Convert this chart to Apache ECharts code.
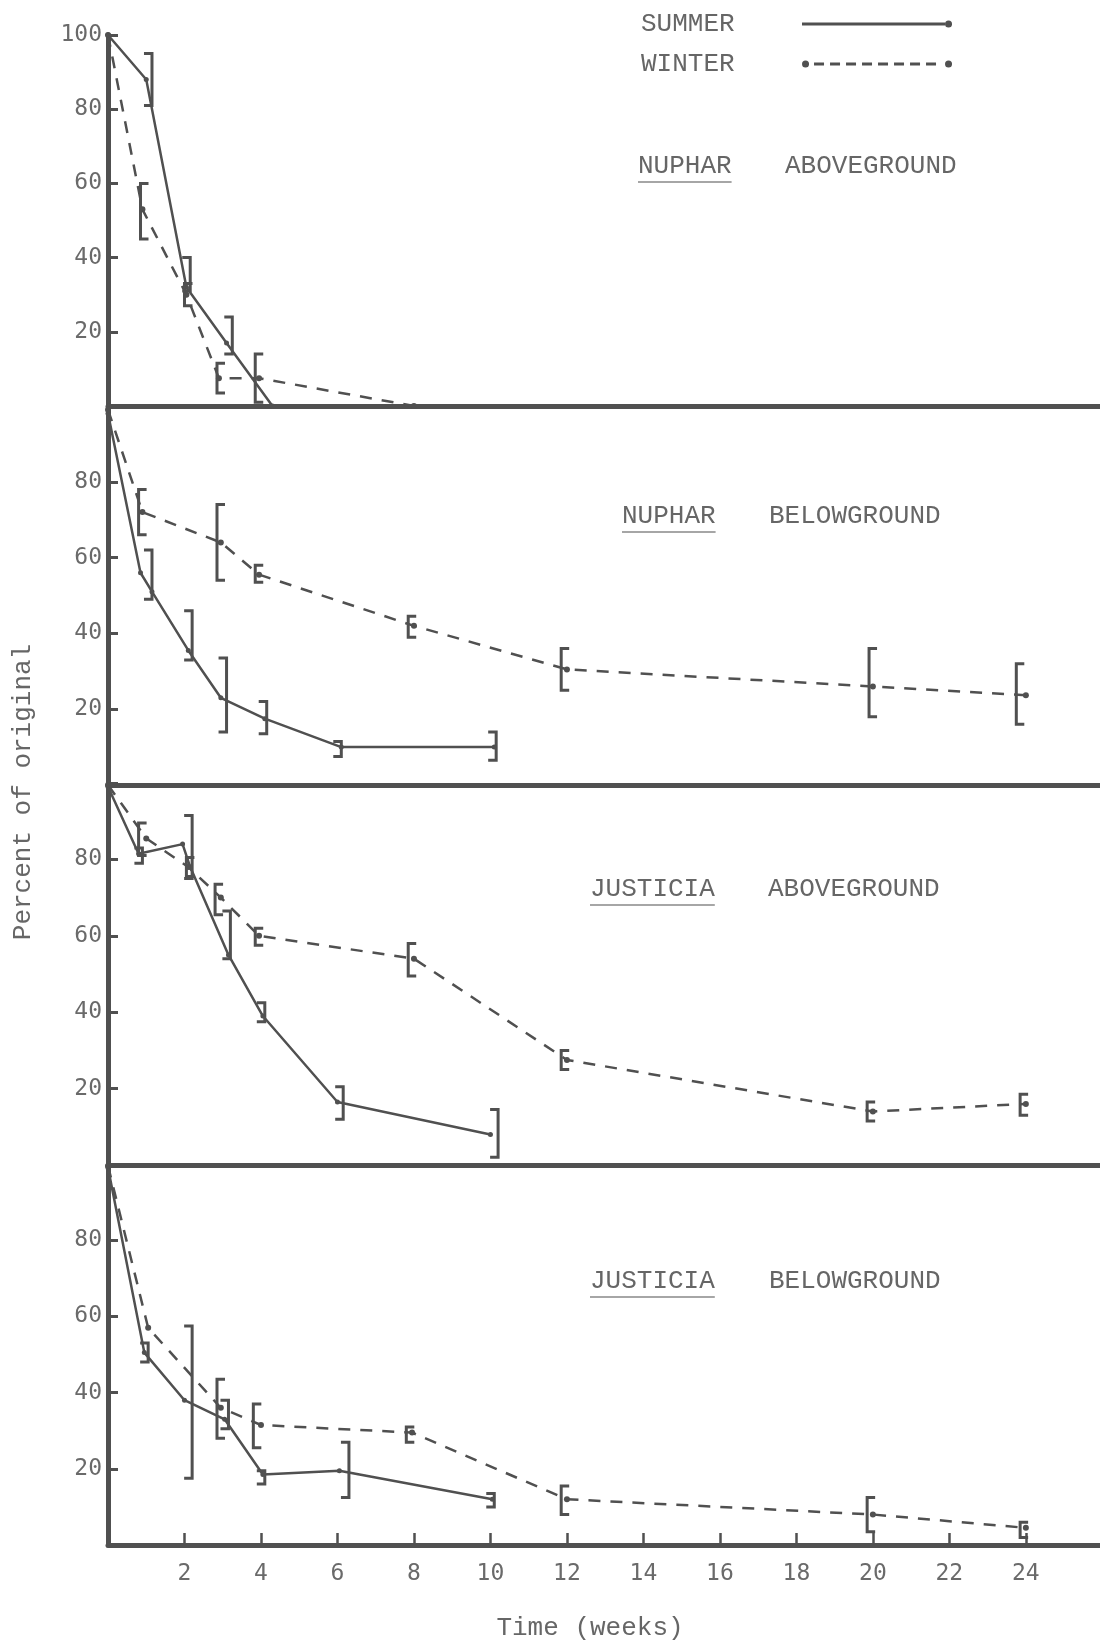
<!DOCTYPE html>
<html>
<head>
<meta charset="utf-8">
<script src="https://cdn.jsdelivr.net/npm/echarts@6/dist/echarts.min.js"></script>
<style>
  html, body { margin: 0; padding: 0; background: #fff; }
  #chart { width: 1100px; height: 1646px; }
</style>
</head>
<body>
<div id="chart"></div>
<script>
// weeks on x, percent of original on y
var xTicks = [2, 4, 6, 8, 10, 12, 14, 16, 18, 20, 22, 24];
var yTicks = [20, 40, 60, 80, 100];

// NUPHAR aboveground
var nupAbvSummer = [[0, 100], [1, 88], [2.05, 32], [3.1, 17], [4.3, 0]];
var nupAbvSummerErr = [[1.15, 81, 95], [2.15, 31, 40], [3.25, 14, 24]];
var nupAbvWinter = [[0, 100], [0.9, 53], [2.05, 30], [2.9, 7.5], [3.95, 7.5], [8, 0]];
var nupAbvWinterErr = [[0.85, 45, 60], [2.0, 27, 33], [2.85, 3.5, 11.5], [3.85, 1, 14]];

// NUPHAR belowground
var nupBelSummer = [[0, 98], [0.85, 56], [1.15, 51], [2.1, 35.5], [2.95, 23], [4.1, 17.5], [6.1, 10], [10.1, 10]];
var nupBelSummerErr = [[1.15, 49, 62], [2.2, 33, 46], [3.1, 14, 33.5], [4.15, 13.5, 22], [6.1, 7.5, 11.5], [10.15, 6.5, 14]];
var nupBelWinter = [[0, 99], [0.9, 72], [2.95, 64], [3.95, 55.5], [8, 42], [12, 30.5], [20, 26], [24, 23.7]];
var nupBelWinterErr = [[0.8, 66, 78], [2.85, 54, 74], [3.85, 53.5, 58], [7.85, 39, 44.5], [11.85, 25, 36], [19.9, 18, 36], [23.75, 16, 32]];

// JUSTICIA aboveground
var jusAbvSummer = [[0, 99], [0.8, 81.5], [1.95, 84], [2.15, 78], [3.15, 55], [4.05, 39], [6, 16.5], [10, 8]];
var jusAbvSummerErr = [[0.9, 79, 83], [2.2, 75, 91.5], [3.2, 54, 66.5], [4.1, 37.5, 42.5], [6.15, 12, 20.5], [10.2, 2, 14.5]];
var jusAbvWinter = [[0, 99.5], [1, 85.5], [2.1, 78], [2.95, 70], [3.95, 60], [8, 54], [12, 27.5], [20, 14], [24, 16]];
var jusAbvWinterErr = [[0.8, 81, 89.5], [2.05, 75.5, 80.5], [2.8, 65.5, 73.5], [3.85, 57.5, 62], [7.85, 49.5, 58], [11.85, 25, 30], [19.85, 11.5, 16.5], [23.85, 13, 18.5]];

// JUSTICIA belowground
var jusBelSummer = [[0, 99], [0.95, 50.5], [2, 38], [3.05, 33], [4.05, 18.5], [6.05, 19.5], [10.05, 12]];
var jusBelSummerErr = [[1.05, 48, 53], [2.2, 17.5, 57.5], [3.15, 30.5, 38], [4.1, 16, 19.5], [6.3, 12.5, 27], [10.1, 10, 13.5]];
var jusBelWinter = [[0, 99.5], [1.05, 57], [2.95, 36], [4.0, 31.5], [7.95, 29.5], [12, 12], [20, 8], [24, 4.5]];
var jusBelWinterErr = [[2.85, 28, 43.5], [3.8, 25.5, 37], [7.8, 27, 31], [11.85, 8, 15.5], [19.85, 3.5, 12.5], [23.85, 2, 6]];

var panels = [
  { genus: 'NUPHAR', part: 'ABOVEGROUND', summer: nupAbvSummer, summerErr: nupAbvSummerErr, winter: nupAbvWinter, winterErr: nupAbvWinterErr },
  { genus: 'NUPHAR', part: 'BELOWGROUND', summer: nupBelSummer, summerErr: nupBelSummerErr, winter: nupBelWinter, winterErr: nupBelWinterErr },
  { genus: 'JUSTICIA', part: 'ABOVEGROUND', summer: jusAbvSummer, summerErr: jusAbvSummerErr, winter: jusAbvWinter, winterErr: jusAbvWinterErr },
  { genus: 'JUSTICIA', part: 'BELOWGROUND', summer: jusBelSummer, summerErr: jusBelSummerErr, winter: jusBelWinter, winterErr: jusBelWinterErr }
];

var ink = '#505050';
var textInk = '#666';
var font = '"Liberation Mono", "DejaVu Sans Mono", monospace';
var numFont = '"DejaVu Sans Mono", monospace';

// grid layout (pixels); axes run a bit past the right edge so the end tick is off-page
var grids = [
  { left: 108, right: -10, top: 35, height: 371, outerBoundsMode: 'none' },
  { left: 108, right: -10, top: 406, height: 379, outerBoundsMode: 'none' },
  { left: 108, right: -10, top: 783, height: 382, outerBoundsMode: 'none' },
  { left: 108, right: -10, top: 1164, height: 381, outerBoundsMode: 'none' }
];
// title positions: [genus x, part x, y]
var titlePos = [[638, 785, 166], [622, 769, 516], [590, 768, 889], [590, 769, 1281]];

// legend icons: line (or dashes) with a dot at the end, like the typed key
var summerIcon = 'path://M0,2L143,2L143,5L0,5Z M143,3.5A3.5,3.5 0 1 1 150,3.5A3.5,3.5 0 1 1 143,3.5Z';
var winterIcon = 'path://M0,3.5A3.5,3.5 0 1 1 7,3.5A3.5,3.5 0 1 1 0,3.5Z';
for (var d = 12; d < 136; d += 16) {
  winterIcon += ' M' + d + ',2L' + (d + 10) + ',2L' + (d + 10) + ',5L' + d + ',5Z';
}
winterIcon += ' M143,3.5A3.5,3.5 0 1 1 150,3.5A3.5,3.5 0 1 1 143,3.5Z';

// bracket-style error bar: side -1 -> "]", +1 -> "["
function bracket(side) {
  return function (params, api) {
    var hi = api.coord([api.value(0), api.value(2)]);
    var lo = api.coord([api.value(0), api.value(1)]);
    var c = 8 * side;
    return {
      type: 'polyline',
      shape: { points: [[hi[0] + c, hi[1]], hi, lo, [lo[0] + c, lo[1]]] },
      style: { stroke: ink, lineWidth: 3, fill: null }
    };
  };
}

var xAxes = [], yAxes = [], series = [], graphics = [];
panels.forEach(function (p, i) {
  var last = i === panels.length - 1;
  xAxes.push({
    type: 'value', gridIndex: i, min: 0, max: 26.2, interval: 2,
    axisLine: { show: true, lineStyle: { color: ink, width: 5 } },
    axisTick: { show: last, inside: true, length: 12, lineStyle: { color: ink, width: 2.5 } },
    axisLabel: {
      show: last, margin: 18, fontFamily: numFont, fontSize: 23, color: '#6a6a6a',
      formatter: function (v) { return xTicks.indexOf(v) >= 0 ? String(v) : ''; }
    },
    splitLine: { show: false },
    name: last ? 'Time (weeks)' : '', nameLocation: 'middle', nameGap: 70,
    nameTextStyle: { fontFamily: font, fontSize: 26, color: textInk, padding: [0, 38, 0, 0] }
  });
  yAxes.push({
    type: 'value', gridIndex: i, min: 0, max: 100, interval: 20,
    axisLine: { show: true, lineStyle: { color: ink, width: 5 } },
    axisTick: { show: true, inside: true, length: 10, lineStyle: { color: ink, width: 3 } },
    axisLabel: {
      margin: 6, fontFamily: numFont, fontSize: 23, color: '#6a6a6a',
      formatter: function (v) {
        if (v === 100 && i > 0) return '';
        return yTicks.indexOf(v) >= 0 ? String(v) : '';
      }
    },
    splitLine: { show: false }
  });
  series.push({
    name: 'SUMMER', type: 'line', xAxisIndex: i, yAxisIndex: i, data: p.summer,
    symbol: 'circle', symbolSize: 5, itemStyle: { color: ink },
    lineStyle: { color: ink, width: 2.5 }, z: 3
  });
  series.push({
    name: 'WINTER', type: 'line', xAxisIndex: i, yAxisIndex: i, data: p.winter,
    symbol: 'circle', symbolSize: 6, itemStyle: { color: ink },
    lineStyle: { color: ink, width: 2.5, type: [12, 10] }, z: 3
  });
  series.push({
    type: 'custom', xAxisIndex: i, yAxisIndex: i, data: p.summerErr,
    encode: { x: 0, y: [1, 2] }, renderItem: bracket(-1), z: 4
  });
  series.push({
    type: 'custom', xAxisIndex: i, yAxisIndex: i, data: p.winterErr,
    encode: { x: 0, y: [1, 2] }, renderItem: bracket(1), z: 4
  });

  var tp = titlePos[i];
  graphics.push({
    type: 'text', x: tp[0], y: tp[2],
    style: { text: p.genus, font: '26px ' + font, fill: textInk, verticalAlign: 'middle' }
  });
  graphics.push({
    type: 'line', shape: { x1: tp[0], y1: tp[2] + 16, x2: tp[0] + p.genus.length * 15.6, y2: tp[2] + 16 },
    style: { stroke: '#888', lineWidth: 1.5 }
  });
  graphics.push({
    type: 'text', x: tp[1], y: tp[2],
    style: { text: p.part, font: '26px ' + font, fill: textInk, verticalAlign: 'middle' }
  });
});

graphics.push({
  type: 'text', x: 23, y: 792, rotation: Math.PI / 2,
  style: { text: 'Percent of original', font: '26px ' + font, fill: textInk, align: 'center', verticalAlign: 'middle' }
});

var chart = echarts.init(document.getElementById('chart'));
chart.setOption({
  animation: false,
  backgroundColor: '#fff',
  grid: grids,
  xAxis: xAxes,
  yAxis: yAxes,
  legend: {
    data: [
      { name: 'SUMMER', icon: summerIcon },
      { name: 'WINTER', icon: winterIcon }
    ],
    selectedMode: false,
    orient: 'vertical', align: 'right', left: 636, top: 6,
    itemWidth: 150, itemHeight: 7, itemGap: 14,
    itemStyle: { color: ink, borderWidth: 0 },
    formatter: function (name) { return name + '    '; },
    textStyle: { fontFamily: font, fontSize: 26, color: textInk }
  },
  graphic: graphics,
  series: series
});
</script>
</body>
</html>
